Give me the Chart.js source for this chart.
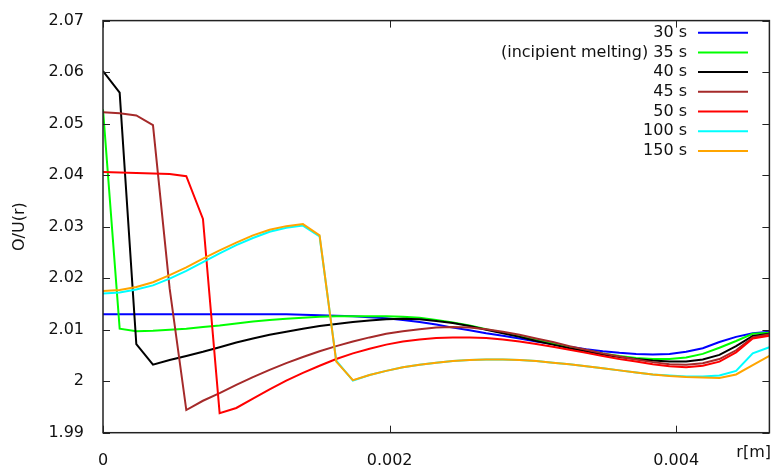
<!DOCTYPE html>
<html>
<head>
<meta charset="utf-8">
<script src="https://cdn.jsdelivr.net/npm/chart.js@4/dist/chart.umd.min.js"></script>
<style>
  html, body { margin: 0; padding: 0; background: #fff; }
  #grafico { display: block; }
</style>
</head>
<body>
<canvas id="grafico" width="774" height="468"></canvas>
<script>
// === DATA ===
// radial positions r [m]
const raios = [0, 0.00011625, 0.0002325, 0.00034875, 0.000465, 0.00058125, 0.0006975, 0.00081375,
  0.00093, 0.00104625, 0.0011625, 0.00127875, 0.001395, 0.00151125, 0.0016275, 0.00174375,
  0.00186, 0.00197625, 0.0020925, 0.00220875, 0.002325, 0.00244125, 0.0025575, 0.00267375,
  0.00279, 0.00290625, 0.0030225, 0.00313875, 0.003255, 0.00337125, 0.0034875, 0.00360375,
  0.00372, 0.00383625, 0.0039525, 0.00406875, 0.004185, 0.00430125, 0.0044175, 0.00453375, 0.00465];

const ou30 = [2.0130, 2.0130, 2.0130, 2.0130, 2.0130, 2.0130, 2.0130, 2.0130, 2.0130, 2.0130,
  2.0130, 2.0130, 2.0129, 2.0128, 2.0127, 2.0126, 2.0124, 2.0122, 2.0119, 2.0115,
  2.0110, 2.0104, 2.0099, 2.0093, 2.0088, 2.0083, 2.0077, 2.0072, 2.0067, 2.0062,
  2.0058, 2.0055, 2.0053, 2.0052, 2.0053, 2.0057, 2.0064, 2.0076, 2.0086, 2.0093, 2.0096];

const ou35 = [2.0528, 2.0102, 2.0097, 2.0098, 2.0100, 2.0102, 2.0105, 2.0108, 2.0112, 2.0116,
  2.0119, 2.0121, 2.0123, 2.0125, 2.0126, 2.0126, 2.0126, 2.0126, 2.0125, 2.0123,
  2.0119, 2.0114, 2.0108, 2.0101, 2.0094, 2.0087, 2.0080, 2.0073, 2.0066, 2.0060,
  2.0054, 2.0049, 2.0045, 2.0043, 2.0043, 2.0046, 2.0053, 2.0065, 2.0078, 2.0092, 2.0094];

const ou40 = [2.0602, 2.0560, 2.0072, 2.0032, 2.0041, 2.0049, 2.0057, 2.0066, 2.0075, 2.0083,
  2.0090, 2.0096, 2.0102, 2.0107, 2.0111, 2.0115, 2.0118, 2.0120, 2.0121, 2.0120,
  2.0117, 2.0113, 2.0107, 2.0100, 2.0093, 2.0086, 2.0078, 2.0071, 2.0064, 2.0058,
  2.0052, 2.0047, 2.0043, 2.0040, 2.0038, 2.0038, 2.0042, 2.0051, 2.0068, 2.0088, 2.0092];

const ou45 = [2.0522, 2.0520, 2.0516, 2.0497, 2.0180, 1.9944, 1.9962, 1.9977, 1.9993, 2.0008,
  2.0022, 2.0035, 2.0047, 2.0058, 2.0068, 2.0077, 2.0085, 2.0092, 2.0097, 2.0101,
  2.0104, 2.0105, 2.0104, 2.0101, 2.0096, 2.0090, 2.0083, 2.0076, 2.0068, 2.0061,
  2.0054, 2.0048, 2.0042, 2.0037, 2.0033, 2.0032, 2.0035, 2.0043, 2.0060, 2.0085, 2.0091];

const ou50 = [2.0406, 2.0405, 2.0404, 2.0403, 2.0402, 2.0398, 2.0315, 1.9938, 1.9948, 1.9966,
  1.9984, 2.0001, 2.0016, 2.0030, 2.0043, 2.0054, 2.0063, 2.0071, 2.0077, 2.0081,
  2.0084, 2.0085, 2.0085, 2.0084, 2.0081, 2.0077, 2.0072, 2.0067, 2.0061, 2.0055,
  2.0049, 2.0043, 2.0038, 2.0033, 2.0029, 2.0027, 2.0030, 2.0038, 2.0056, 2.0083, 2.0088];

const ou100 = [2.0170, 2.0172, 2.0178, 2.0186, 2.0199, 2.0214, 2.0231, 2.0248, 2.0264, 2.0278,
  2.0290, 2.0298, 2.0302, 2.0281, 2.0040, 2.0001, 2.0012, 2.0020, 2.0027, 2.0032,
  2.0036, 2.0039, 2.0041, 2.0042, 2.0042, 2.0041, 2.0039, 2.0036, 2.0033, 2.0029,
  2.0025, 2.0021, 2.0017, 2.0013, 2.0011, 2.0009, 2.0009, 2.0011, 2.0020, 2.0054, 2.0066];

const ou150 = [2.0175, 2.0177, 2.0183, 2.0192, 2.0206, 2.0221, 2.0238, 2.0254, 2.0269, 2.0283,
  2.0294, 2.0301, 2.0305, 2.0283, 2.0038, 2.0002, 2.0012, 2.0020, 2.0027, 2.0032,
  2.0036, 2.0039, 2.0041, 2.0042, 2.0042, 2.0041, 2.0039, 2.0036, 2.0033, 2.0029,
  2.0025, 2.0021, 2.0017, 2.0013, 2.0010, 2.0008, 2.0007, 2.0006, 2.0013, 2.0031, 2.0049];

const nomesSeries = ['30 s', '(incipient melting) 35 s', '40 s', '45 s', '50 s', '100 s', '150 s'];
const coresSeries = ['#0000ff', '#00ff00', '#000000', '#a52a2a', '#ff0000', '#00ffff', '#ffa500'];
const valoresSeries = [ou30, ou35, ou40, ou45, ou50, ou100, ou150];

const xTicks = [0, 0.002, 0.004];
const xTickLabels = ['0', '0.002', '0.004'];
const yTicks = [1.99, 2, 2.01, 2.02, 2.03, 2.04, 2.05, 2.06, 2.07];
const yTickLabels = ['1.99', '2', '2.01', '2.02', '2.03', '2.04', '2.05', '2.06', '2.07'];

const FONTE = 'DejaVu Sans';
const COR_TEXTO = '#111';
const PAD_X = 11;

// === frame, inward ticks, key, axis name (gnuplot look) ===
const moldura = {
  id: 'moldura',
  afterDraw(chart) {
    const ctx = chart.ctx;
    const a = chart.chartArea;
    const sx = chart.scales.x;
    const sy = chart.scales.y;
    ctx.save();
    ctx.strokeStyle = '#222';
    ctx.lineWidth = 1.5;
    ctx.strokeRect(a.left, a.top, a.right - a.left, a.bottom - a.top);

    ctx.lineWidth = 1;
    ctx.beginPath();
    xTicks.forEach(v => {
      const px = Math.round(sx.getPixelForValue(v)) + 0.5;
      ctx.moveTo(px, a.bottom); ctx.lineTo(px, a.bottom - 7);
      ctx.moveTo(px, a.top); ctx.lineTo(px, a.top + 7);
    });
    yTicks.forEach(v => {
      const py = Math.round(sy.getPixelForValue(v)) + 0.5;
      ctx.moveTo(a.left, py); ctx.lineTo(a.left + 7, py);
      ctx.moveTo(a.right, py); ctx.lineTo(a.right - 7, py);
    });
    ctx.stroke();

    // key, top right
    ctx.font = '16px "' + FONTE + '"';
    ctx.fillStyle = COR_TEXTO;
    ctx.textAlign = 'right';
    ctx.textBaseline = 'middle';
    chart.data.datasets.forEach((ds, i) => {
      const y = 32.7 + i * 19.7;
      ctx.fillText(ds.label, 687, y);
      ctx.strokeStyle = ds.borderColor;
      ctx.lineWidth = 2;
      ctx.beginPath();
      ctx.moveTo(698, y);
      ctx.lineTo(748, y);
      ctx.stroke();
    });

    // x axis name at the right end, on the tick label row
    ctx.fillText('r[m]', 771, a.bottom + PAD_X + 9.6);
    ctx.restore();
  }
};

// === CHART ===
const conjuntos = valoresSeries.map((serie, i) => ({
  label: nomesSeries[i],
  data: serie.map((v, k) => ({ x: raios[k], y: v })),
  borderColor: coresSeries[i],
  backgroundColor: coresSeries[i],
  borderWidth: 2,
  pointRadius: 0,
  tension: 0,
  fill: false,
  order: valoresSeries.length - i // later curves on top
}));

new Chart(document.getElementById('grafico'), {
  type: 'line',
  data: { datasets: conjuntos },
  options: {
    responsive: false,
    animation: false,
    devicePixelRatio: 1,
    layout: { padding: { top: 15, right: 4.6, bottom: 0, left: 0 } },
    plugins: { legend: { display: false }, tooltip: { enabled: false } },
    scales: {
      x: {
        type: 'linear',
        min: 0,
        max: 0.00465,
        grid: { display: false },
        border: { display: false },
        afterBuildTicks: s => { s.ticks = xTicks.map(v => ({ value: v })); },
        afterFit: s => { s.height = 35.3; },
        ticks: {
          padding: PAD_X,
          maxRotation: 0,
          color: COR_TEXTO,
          font: { family: FONTE, size: 16 },
          callback: (v, i) => xTickLabels[i]
        }
      },
      y: {
        type: 'linear',
        min: 1.99,
        max: 2.07,
        grid: { display: false },
        border: { display: false },
        afterBuildTicks: s => { s.ticks = yTicks.map(v => ({ value: v })); },
        afterFit: s => { s.width = 103; },
        title: {
          display: true,
          text: 'O/U(r)',
          color: COR_TEXTO,
          font: { family: FONTE, size: 16 },
          padding: { top: 10, bottom: 0 }
        },
        ticks: {
          padding: 11,
          color: COR_TEXTO,
          font: { family: FONTE, size: 16 },
          callback: (v, i) => yTickLabels[i]
        }
      }
    }
  },
  plugins: [moldura]
});
</script>
</body>
</html>
